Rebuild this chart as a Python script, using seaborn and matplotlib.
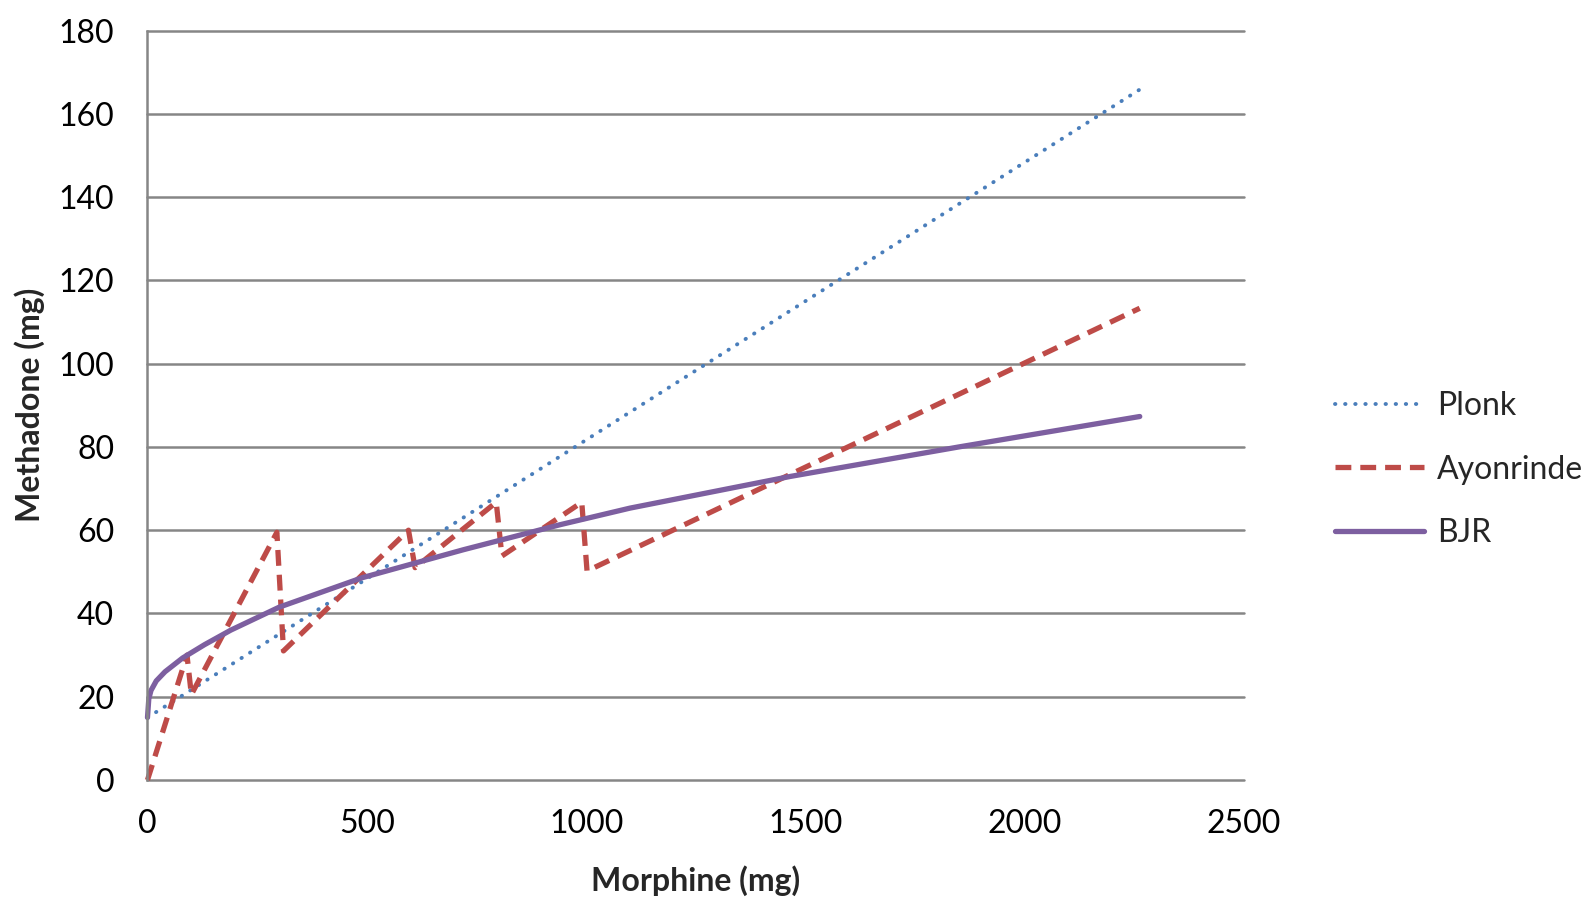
import numpy as np
import pandas as pd
import matplotlib
matplotlib.use("Agg")
import matplotlib.pyplot as plt
import seaborn as sns

sns.set_style("white")
plt.rcParams['font.family'] = ['Lato', 'DejaVu Sans']

### Data (morphine mg -> methadone mg)
plonk_x = [0, 2260]
plonk_y = [15, 165.7]

ayonrinde_x = [0, 90, 100, 295, 310, 595, 610, 795, 808, 990, 1002, 2262]
ayonrinde_y = [0, 30, 20.5, 59.5, 31, 60, 51, 66.7, 53.8, 66.7, 50.2, 113.3]

bjr_x = [0, 3, 8, 20, 40, 80, 130, 190, 300, 490, 720, 940, 1100, 1465, 1850, 2262]
bjr_y = [15, 19.5, 21.5, 23.8, 26, 29.3, 32.5, 36, 41.5, 48.6, 55.3, 61.3, 65.3, 72.9, 80, 87.3]

x_ticks = [0, 500, 1000, 1500, 2000, 2500]
y_ticks = [0, 20, 40, 60, 80, 100, 120, 140, 160, 180]

grid_col = '#868686'

fig = plt.figure(figsize=(15.91, 8.98), dpi=100)
ax = fig.add_axes([0.0927, 0.1314, 0.6893, 0.8346])

# Plonk - dotted blue
sns.lineplot(x=plonk_x, y=plonk_y, ax=ax, color='#4A7EBB', lw=2.8,
             estimator=None, sort=False, label='Plonk')
ln = ax.lines[-1]
ln.set_dashes((0.1, 2.5))
ln.set_dash_capstyle('round')

# Ayonrinde - dashed red
sns.lineplot(x=ayonrinde_x, y=ayonrinde_y, ax=ax, color='#BE4B48', lw=3.8,
             estimator=None, sort=False, label='Ayonrinde')
ln = ax.lines[-1]
ln.set_dashes((3, 1.7))

# BJR - solid purple
sns.lineplot(x=bjr_x, y=bjr_y, ax=ax, color='#7D5FA0', lw=3.8,
             estimator=None, sort=False, label='BJR')
ax.lines[-1].set_solid_capstyle('round')

for l in ax.lines:
    l.set_clip_on(False)

ax.set_xlim(0, 2500)
ax.set_ylim(0, 180)
ax.set_xticks(x_ticks)
ax.set_yticks(y_ticks)
ax.tick_params(axis='both', length=0, labelsize=23, colors='black')
ax.tick_params(axis='y', pad=24)
ax.tick_params(axis='x', pad=21)

ax.set_axisbelow(True)
ax.yaxis.grid(True, color=grid_col, lw=1.8)
ax.xaxis.grid(False)
for gl in ax.yaxis.get_gridlines():
    gl.set_clip_on(False)
for s in ['top', 'right', 'bottom']:
    ax.spines[s].set_visible(False)
ax.spines['left'].set_color(grid_col)
ax.spines['left'].set_linewidth(1.8)

ax.set_xlabel('Morphine (mg)', fontsize=23, fontweight='bold')
ax.set_ylabel('Methadone (mg)', fontsize=23, fontweight='bold')
ax.xaxis.set_label_coords(0.5, -0.114)
ax.yaxis.set_label_coords(-0.093, 0.5)

handles, labels = ax.get_legend_handles_labels()
ax.legend_.remove()
fig.legend(handles, labels, loc='center left', bbox_to_anchor=(0.839, 0.477),
           frameon=False, fontsize=23, handlelength=2.8, handletextpad=0.4,
           labelspacing=1.05, borderpad=0, borderaxespad=0)

fig.savefig('out.png', dpi=100)
